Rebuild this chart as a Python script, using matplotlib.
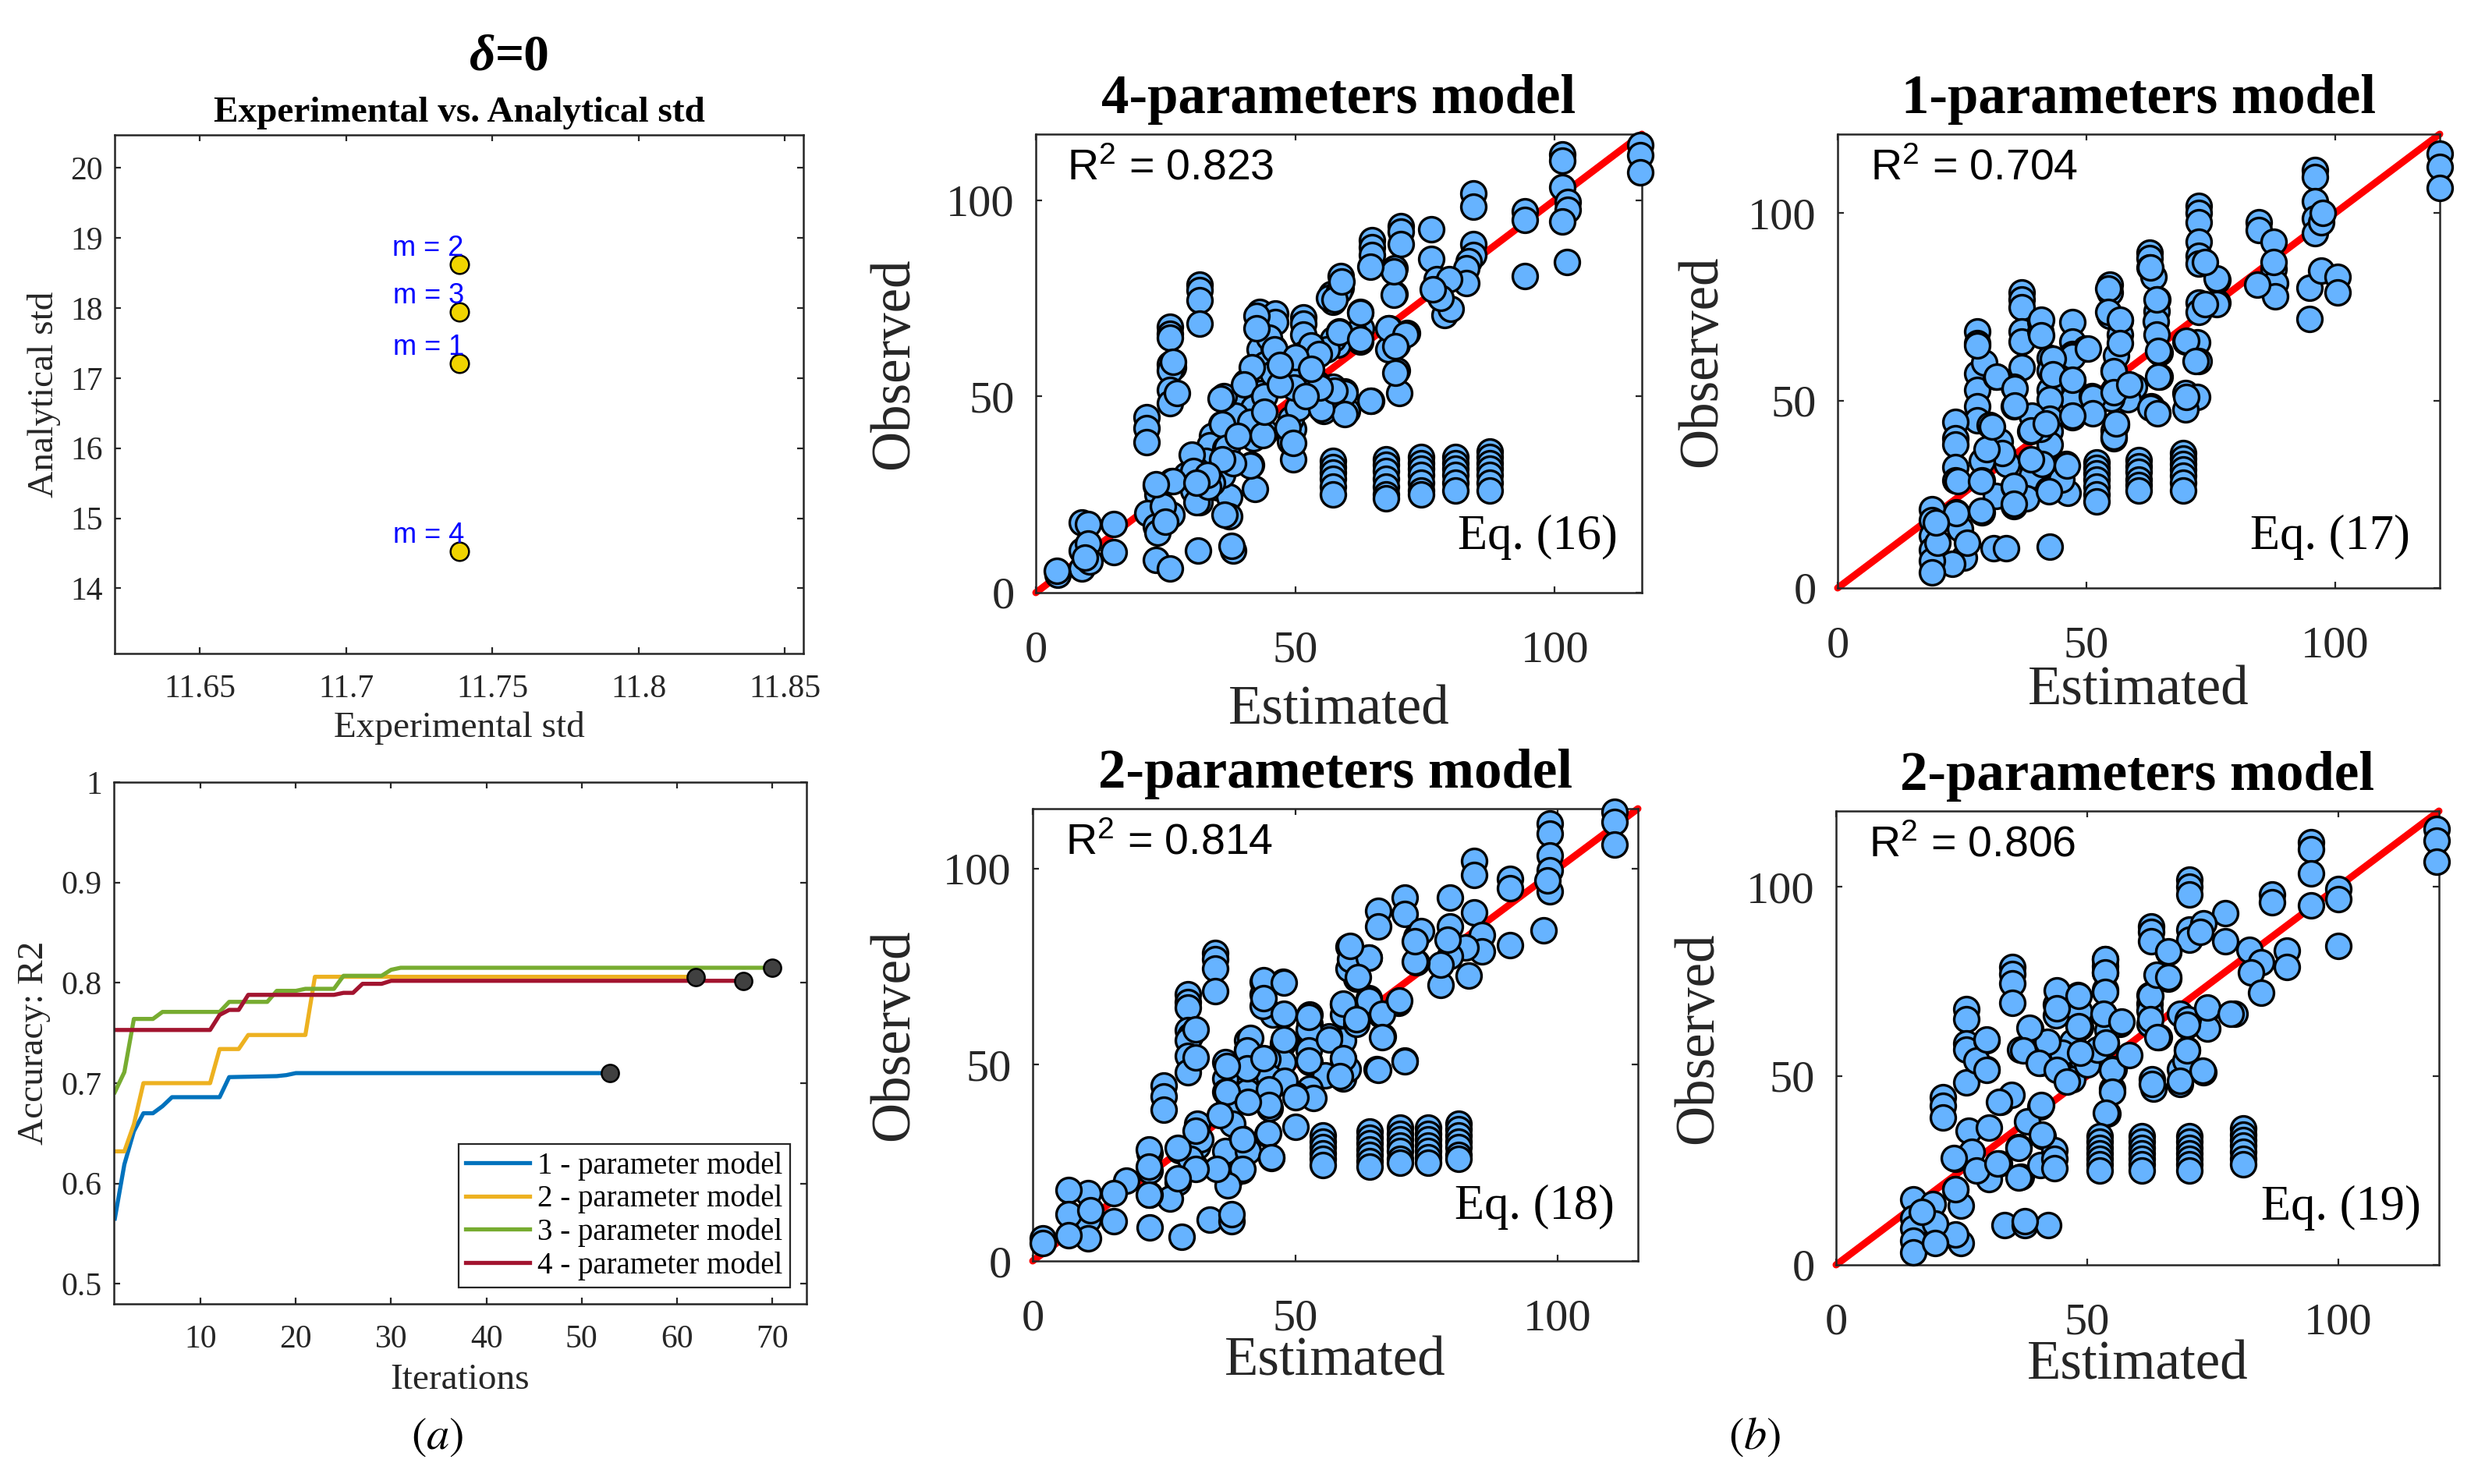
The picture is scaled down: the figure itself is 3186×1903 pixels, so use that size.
import numpy as np
import matplotlib
matplotlib.use('Agg')
import matplotlib.pyplot as plt
from matplotlib.ticker import FixedLocator, FixedFormatter

# ---------------- data: panel (a) top ----------------
model_m = [1, 2, 3, 4]
exp_std = [11.7386, 11.7386, 11.7386, 11.7386]
ana_std = [17.21, 18.62, 17.94, 14.53]

# ---------------- data: panel (a) bottom (breakpoints of R2 vs iterations) -------------
it_1p = [1, 2, 3, 4, 5, 6, 7, 12, 13, 18, 19, 20, 53]
r2_1p = [0.565, 0.619, 0.652, 0.670, 0.670, 0.677, 0.686, 0.686, 0.706, 0.707, 0.708, 0.710, 0.710]
it_2p = [1, 2, 3, 4, 11, 12, 14, 15, 21, 22, 62]
r2_2p = [0.632, 0.632, 0.659, 0.700, 0.700, 0.734, 0.734, 0.748, 0.748, 0.806, 0.806]
it_3p = [1, 2, 3, 5, 6, 12, 13, 17, 18, 20, 21, 24, 25, 29, 30, 31, 70]
r2_3p = [0.691, 0.711, 0.764, 0.764, 0.771, 0.771, 0.781, 0.781, 0.792, 0.792, 0.794, 0.794,
         0.807, 0.807, 0.813, 0.815, 0.815]
it_4p = [1, 11, 12, 13, 14, 15, 24, 25, 26, 27, 29, 30, 67]
r2_4p = [0.753, 0.753, 0.768, 0.773, 0.773, 0.788, 0.788, 0.790, 0.790, 0.799, 0.799, 0.802, 0.802]
end_it = [53, 62, 67, 70]
end_r2 = [0.710, 0.806, 0.8015, 0.815]
legend_labels = ['1 - parameter model', '2 - parameter model', '3 - parameter model', '4 - parameter model']

# ---------------- data: panel (b) scatter points (estimated, observed) ----------------
pts_eq16 = [
    (116.5, 114), (116.5, 111.5), (116.5, 107),
    (101.4, 111.6), (101.4, 110), (101.4, 103.3), (102.5, 99.5), (102.5, 97.5), (101.4, 94.6), (102.3, 84.3),
    (94.2, 97.1), (94.2, 95), (94.2, 80.6),
    (84.4, 101.7), (84.4, 98.3), (84.4, 88.8), (84.4, 86), (83.5, 84.5), (83, 82.6), (83, 78.9),
    (76.2, 92.6), (76.2, 85.1), (77.3, 79.8), (77.3, 77.3), (78.8, 70.7), (80, 72.3), (79.6, 79.8), (78, 75),
    (70.4, 93.4), (70.4, 92), (70.4, 88.8), (69.2, 82.6), (69.2, 76),
    (64.8, 89.7), (64.8, 88), (64.8, 86),
    (58.8, 80.6), (58.8, 77.7), (56.9, 76), (57.3, 74), (56.5, 75),
    (62.5, 71.5), (62.7, 67.4), (62.5, 64), (61.5, 66),
    (58.5, 66.5), (58.1, 63.2), (57.3, 64.5), (56, 62),
    (68.1, 67.4), (71.5, 66.1), (69.6, 63.2), (69.6, 56.6), (70, 50.8), (68, 62),
    (64.6, 48.8), (59.6, 51.2), (60, 46.3), (57.3, 52.5), (55.4, 46.3), (56, 49),
    (51.5, 70.2), (51.5, 68.5), (51.5, 65.7), (51.5, 60.7), (50, 57.9), (50, 52.5), (54.2, 60.7),
    (54.2, 53.3), (52.7, 55.8), (53, 63),
    (49.6, 41.7), (49.6, 33.9), (49.2, 44.2), (49, 38.5), (50.5, 47),
    (43.1, 71.5), (43.1, 70), (43.1, 68.6), (43.1, 62), (46.2, 71.1), (46.2, 69), (45.8, 62.4),
    (46.2, 55.8), (44.2, 58.3), (45, 65),
    (40.4, 53.7), (39.6, 48.8), (43.5, 50.8), (41.5, 43.8), (41.9, 39.3), (44.2, 40.9), (42, 47), (38.5, 45),
    (36.2, 50), (35.8, 43), (34, 40), (33.5, 37.5), (41.5, 32.6), (42.3, 26.4),
    (36.5, 36.8), (35, 26.9), (37.3, 24.4), (37.3, 19.4), (34.6, 31.8), (32.7, 33.5), (36, 30), (34, 28),
    (30.8, 31.4), (30.4, 26), (30, 35.1), (29, 30), (31.5, 23),
    (31.5, 78.5), (31.5, 77), (31.5, 74.4), (31.5, 68.6),
    (25.9, 67.8), (25.9, 66), (25.9, 64.9), (25.9, 58.3), (26.5, 57.5), (25.9, 56.6), (25.9, 51.7), (25.9, 48.3),
    (21.4, 44.6), (21.4, 42), (21.4, 38.4),
    (26.2, 28.5), (23.1, 27.3), (23.5, 25), (26.2, 19.8), (21.5, 20.2), (23.1, 16.9), (23.5, 15.3), (24.5, 22), (25, 18),
    (23.1, 8.3), (25.8, 6.2), (31.2, 10.7), (38.1, 10.7), (37.7, 12),
    (15, 17.4), (15, 10.3),
    (8.8, 17.8), (10, 17.5), (8.8, 10.7), (10, 12.5), (8.8, 6.2), (10.4, 7.9), (9.5, 9),
    (4.2, 4.5), (4, 5.5),
    (42.5, 70.6), (42.5, 67.3), (46, 62), (49.7, 57.8), (49.7, 52.2), (45.7, 55.8), (41.7, 57.4), (54.5, 60.7),
    (58.5, 66.3), (58.5, 76.9), (57.5, 74.6), (62.5, 71.3), (62.5, 64.5), (68, 67.3), (71.2, 65.7), (69.3, 62.7),
    (69.3, 56.1), (64.5, 48.8), (59.5, 50.8), (59.5, 45.5), (55, 46.9), (57.5, 51.5), (54.7, 52.2), (69, 75.9),
    (69, 81.8), (64.5, 83), (59, 79.2), (76.5, 77.2), (40.2, 53.1), (35.7, 49.5), (35.9, 42.9), (41.4, 43.6),
    (48.5, 42.2), (49.6, 38.2), (43.8, 40.2), (41.4, 32.3), (30.4, 31), (30.9, 23.1), (33.2, 27.1), (36.9, 37),
    (26.4, 28.4), (23.1, 27.7), (36.4, 19.8), (26.4, 58.7), (27.2, 50.8), (44, 50), (47, 53), (52, 50),
    (50, 60), (53, 57), (47, 58), (44, 46), (39, 40), (38, 33), (36, 34), (33, 30), (31, 28),
]
cols_eq16 = [(57.3, [33.5, 32, 30.5, 29, 27, 25]),
             (67.5, [34, 32.5, 31, 29, 27, 25, 24]),
             (74.2, [34.5, 33, 31.5, 30, 28, 26, 25]),
             (80.8, [34.5, 33, 31.5, 30, 28, 26]),
             (87.5, [36, 34.5, 33, 31.5, 30, 28, 26])]

pts_eq17 = [
    (121, 115.7), (121, 112.2), (121, 106.6),
    (96, 111.4), (96, 109.5), (96, 103.2), (96, 98.5), (96, 94.6), (97.2, 97.6), (97.5, 100),
    (84.6, 97.6), (84.6, 95.4), (87.6, 92.4), (87.6, 85.1), (88, 81.2), (88, 77.8), (84.4, 80.8), (87.6, 87),
    (94.8, 80), (94.8, 71.8), (97.2, 84.7), (100.4, 83), (100.4, 78.7),
    (72.6, 101.9), (72.6, 100), (72.6, 97.6), (72.6, 92.4), (72.6, 88.6), (72.6, 86.4), (76.3, 82.1),
    (76.3, 76.1), (72.6, 76.1), (72.6, 73.5),
    (62.7, 89.4), (62.7, 88), (62.7, 85.5), (63.5, 83), (64.3, 76.9), (64.1, 73.9), (64, 71),
    (54.7, 80.8), (54.7, 78.7), (54.7, 72.6), (56.7, 71.3), (56.7, 67.5), (55.5, 58), (55.5, 52.8),
    (56, 43.4), (55.5, 39.9), (56, 62),
    (64.7, 62.7), (64.7, 56.3), (64.1, 67.5), (64.3, 46.8), (63, 48.5),
    (69.9, 65.7), (72.3, 65.5), (72.6, 60.6), (69.9, 52), (72.3, 51), (69.9, 47.7),
    (59.5, 53.7), (58.3, 50.3), (55, 50.5),
    (47.1, 70.9), (47.1, 65.7), (47.1, 62.3), (47.1, 55.4), (47.1, 50.3), (47.1, 45.5), (49.9, 63.9),
    (51.1, 51.1), (51.1, 46.8), (55.5, 42),
    (37, 78.7), (37, 77), (37, 74.8), (37, 68.3), (37, 65.7), (40.7, 70.9), (40.7, 68.3),
    (42.7, 61.4), (42.7, 58), (42.7, 52.8), (42.7, 50.3), (42.7, 45.1), (42.7, 41.7), (42.7, 38.2),
    (37, 58.9), (35.4, 53.7), (35.4, 48.5), (38.7, 41.7), (38.7, 33.9), (40.7, 42.5), (39, 46),
    (28, 68.3), (28, 65.3), (28, 57.1), (28, 52.8), (28, 48.5), (28, 44.7), (31.8, 56.3), (29.5, 60),
    (30.6, 43.4), (32.6, 39.1), (34, 33), (33, 36),
    (23.7, 44.2), (23.7, 40), (23.7, 38.2), (23.7, 32.2), (23.7, 28.7),
    (29, 33.9), (29, 28.7), (29, 20.1), (31.8, 24.5), (30, 37),
    (35.4, 27), (35.4, 21.9), (39, 30), (42.3, 26.2), (45.9, 33), (46.3, 25.3), (45, 29), (41, 33), (38, 24),
    (23.8, 20.1), (24.6, 15.8), (25.4, 8.1), (23, 6.4), (26, 12),
    (19, 21), (19, 18), (19, 14), (19, 10.2), (19, 7.2), (19, 4.2), (20, 12),
    (31.4, 10.7), (33.8, 10.7), (42.7, 11.1),
    (40.9, 71.5), (40.9, 67.4), (28.1, 64.6), (32, 56.3), (47.1, 61.8), (50.3, 63.9), (43.2, 61.1), (43.2, 57),
    (47.1, 55.6), (51.3, 50.7), (51.3, 46.5), (47.1, 45.9), (35.6, 53.2), (35.6, 48.6), (31, 43), (38.8, 42.1),
    (41.9, 43.8), (55.5, 57.7), (55.5, 52.1), (55.5, 40.4), (56, 43.8), (54.4, 79.8), (54.4, 73.6), (56.7, 71.5),
    (56.7, 65.3), (58.6, 54.2), (62.8, 48), (64.3, 46.6), (64.1, 77), (64.4, 63.2), (64.4, 56.3), (62.8, 85.4),
    (70.1, 66), (71.9, 60.5), (70.1, 51), (76.1, 82.6), (76.1, 75.7), (73.9, 75.7), (73.9, 86.8), (24.1, 28.5),
    (28.8, 28.5), (35.4, 27.2), (35.4, 22.4), (42.4, 25.8), (46.1, 32.7), (38.8, 34.3), (23.9, 19.9),
    (19.7, 17.4), (28.8, 20.6),
]
cols_eq17 = [(52, [33.5, 32, 30.5, 29, 27, 25, 23]),
             (60.5, [34, 32.5, 31, 29, 27.5, 26]),
             (69.5, [36, 34.5, 33, 31.5, 30, 28, 26])]

pts_eq18 = [
    (110.8, 114.5), (110.8, 112), (110.8, 106.2),
    (98.5, 111.5), (98.5, 109), (98.5, 103.3), (98.5, 99.6), (98.5, 94.2), (97.3, 84.3), (98, 97),
    (90.9, 97.5), (90.9, 95), (90.9, 80.6),
    (84.1, 102), (84.1, 98.4), (84.1, 88.9), (85.6, 83.1), (85.6, 79), (83, 72.8), (82.5, 80),
    (79.5, 92.6), (79.5, 85.2), (79.5, 77.8), (77.7, 70.3), (77.7, 75.5), (79, 82),
    (73.1, 82.7), (73.1, 76.1), (70.8, 92.6), (70.8, 88.5), (74, 84),
    (65.8, 89.3), (65.8, 85.2), (64, 77.3), (60.2, 80.2), (61.7, 72), (60.2, 74.5), (60.5, 77),
    (59.1, 65.4), (59.1, 62.9), (59.1, 56.3), (61.7, 60.5), (64, 67), (66.3, 62.9), (69.7, 65.8),
    (66.7, 57.2), (70.8, 51), (65.5, 48.9), (59.1, 51.4), (59.1, 46.5), (60, 49),
    (52.7, 62.9), (52.7, 60.5), (52.7, 58), (52.7, 54.7), (52.7, 50.6), (56.4, 57.2), (55.7, 47.3),
    (52.7, 44), (50, 42.3), (53.5, 41.5),
    (47.7, 71.2), (47.7, 62.9), (47.7, 55.5), (47.7, 50.6), (43.9, 71.2), (43.9, 67.9), (45.8, 62.9), (43.9, 65),
    (40.9, 56.3), (40.9, 53.9), (40.9, 49.8), (40.9, 46.5), (40.9, 43.2), (44.7, 51.4), (45.1, 44),
    (45.1, 39), (50, 34.1), (45, 47), (48, 46),
    (36.7, 50.6), (36.7, 46.5), (36.7, 43.2), (36.7, 37.4), (37.5, 40),
    (44.7, 32.5), (45.5, 26.3), (39.8, 31.2), (39.8, 23), (37.5, 20.9), (36.7, 28), (41, 28), (38, 35),
    (34.7, 78.6), (34.7, 77), (34.7, 74.5), (34.7, 68.7),
    (29.5, 67.9), (29.5, 66), (29.5, 64.6), (29.5, 58.8), (30, 57.5), (29.5, 56.3), (29.5, 52.2), (29.5, 48.1),
    (25, 44.8), (25, 42), (25, 38.6),
    (31.4, 34.9), (31.4, 29.2), (31.1, 23.8), (28, 28.3), (27.7, 20.1), (26.1, 16), (22.3, 27.5),
    (22.3, 23), (22.3, 16.8), (32, 31), (30, 26),
    (17.8, 20.5), (15.5, 17.2), (15.5, 10.2), (10.6, 17.2), (10.6, 10.6), (10.6, 5.7), (6.8, 18),
    (6.8, 11.9), (6.8, 6.5), (11, 13),
    (22.3, 8.6), (28.4, 6.1), (33.7, 10.6), (37.9, 10.2), (37.9, 12),
    (1.9, 5.7), (2, 4.5),
    (44, 71.6), (47.9, 71), (44, 67), (47.9, 63), (47.9, 56.4), (41.5, 56.8), (40.8, 53.7), (40.8, 49.1),
    (37, 49.7), (37, 43.2), (44, 51.7), (45, 43.8), (50, 41.8), (45, 39.8), (41, 40.5), (52.6, 59),
    (52.6, 53.7), (52.6, 51.1), (52.6, 62.3), (56.4, 56.4), (59.1, 65.7), (59.1, 51.7), (58.6, 47.1),
    (64, 66.4), (66.5, 63), (66.5, 57.1), (69.9, 66.4), (65.8, 48.8), (70.8, 50.8), (61.7, 61.7),
    (72.8, 76.3), (72.8, 81.6), (64, 77.3), (62, 72.3), (60.5, 80.3), (44.9, 32.7), (45.4, 26.4),
    (39.9, 31.1), (39.9, 23.5), (37.1, 19.3), (35.1, 23.5), (35.6, 37.2), (31.1, 33.2), (31.1, 23.5),
    (27.6, 28.9), (22.2, 28.5), (22.2, 24.1), (27.6, 21), (22.2, 16.8), (31.1, 59), (31.1, 51.8),
]
cols_eq18 = [(55.3, [32, 30.5, 29, 27.5, 26, 24.5]),
             (64.2, [33, 31.5, 30, 28.5, 27, 25.5, 24]),
             (70, [34, 32.5, 31, 29.5, 28, 26, 25]),
             (75.4, [34, 32.5, 31, 29.5, 28, 26.5, 25]),
             (81.1, [35, 33.5, 32, 30.5, 29, 27, 26])]

pts_eq19 = [
    (119.5, 115.2), (119.5, 112.2), (119.5, 106.6),
    (94.5, 111.7), (94.5, 110), (94.5, 103.6), (94.5, 95), (100, 99.3), (100, 96.7), (100, 84.3),
    (86.8, 98), (86.8, 95.9), (89.7, 83), (89.7, 78.7), (82.2, 83.4), (84.6, 80), (82.6, 77.4), (84.6, 71.9),
    (77.5, 92.9), (77.5, 85.6),
    (70.3, 101.9), (70.3, 100), (70.3, 98), (70.3, 88.6), (70.3, 86), (73.1, 90.3), (72.5, 88),
    (62.7, 89.5), (62.7, 88), (62.7, 85.6), (66.2, 82.6), (66.2, 75.7),
    (53.6, 80.9), (53.6, 79), (53.6, 77.4), (53.6, 72.7), (53.3, 66.3), (56.5, 63.7), (53.7, 58.6),
    (55.3, 51.7), (54.9, 46.6), (54.1, 40.1), (54, 62),
    (62.4, 71.4), (62.4, 69), (62.4, 67.2), (62.4, 63.7), (64.2, 60.3),
    (68.4, 66.3), (69.9, 63.3), (73.9, 67.6), (73.9, 62.4), (79.4, 66.3), (70, 65),
    (69.9, 56.9), (68.4, 51.7), (73.1, 50.9), (68.4, 47.9), (62.8, 49.1), (63.2, 46.6), (69.5, 54),
    (48.2, 71.4), (48.6, 62.9), (48.6, 55.1), (43.8, 68.9), (43.8, 66), (48.5, 67), (47, 59),
    (35.1, 78.7), (35.1, 77), (35.1, 74.4), (35.1, 69.3),
    (38.7, 62.4), (36.7, 56.9), (40.7, 53.4), (44.2, 52.6), (47, 49.1), (45, 56), (42, 59), (50, 53), (52, 57),
    (26, 67.6), (26, 65), (26, 58.6), (26, 56.9), (26, 48.3), (30, 59.4), (30, 51.7), (28, 54),
    (21.3, 44.4), (21.3, 42), (21.3, 38.9),
    (32.8, 43.1), (40.7, 41.9), (41.1, 34.1), (36.3, 31.1), (32.4, 26.8), (36.8, 23.4), (40.7, 26.4),
    (43.4, 30.3), (38, 38), (35, 45), (43.4, 28), (43.4, 25.5),
    (26.4, 35.4), (30.4, 36.3), (30.4, 22.6), (23.7, 28.1), (23.7, 20), (24.8, 15.7), (24.8, 5.8),
    (23.7, 8), (27, 30), (28, 25),
    (15.3, 17.4), (15.3, 12.3), (15.3, 9.7), (15.3, 6.3), (15.3, 3.3), (19.3, 16.1), (19.7, 11),
    (19.7, 5.8), (17, 14),
    (33.5, 10.5), (37.5, 10.5), (42.2, 10.5), (37.5, 11.5),
    (38.5, 62.6), (37.2, 56.8), (40.3, 53.3), (43.9, 72.6), (43.9, 67.8), (48.3, 71.2), (48.3, 63),
    (48.6, 56.1), (43.9, 51.6), (45.9, 48.5), (53.5, 80.8), (53.5, 77.4), (53.5, 72.2), (53.2, 66.4),
    (56.8, 64.3), (53.7, 58.7), (55, 51.6), (55, 45.8), (53.7, 40.3), (58.4, 55.4), (62.5, 71.2), (62.5, 65),
    (64, 60.2), (63.8, 76.7), (66.1, 76), (66.1, 82.9), (69.8, 63.6), (73.9, 68.1), (69.8, 56.8),
    (68.5, 48.6), (72.9, 51.3), (62.8, 47.8), (78.5, 66.4), (41, 34.4), (36.4, 31), (32.2, 26.8),
    (36.4, 23), (23.4, 28.2), (23.7, 20), (32.5, 43), (40.8, 42.3), (29.9, 59.5), (29.9, 51.6),
]
cols_eq19 = [(52.5, [34, 32.5, 31, 29.5, 28, 26.5, 25]),
             (60.8, [34, 32.5, 31, 29.5, 28, 26.5, 25]),
             (70.3, [34, 32.5, 31, 29.5, 28, 26.5, 25]),
             (81, [36, 34.5, 33, 31.5, 30, 28, 26.5])]

panel_titles = ['4-parameters model', '1-parameters model', '2-parameters model', '2-parameters model']
panel_r2 = ['0.823', '0.704', '0.814', '0.806']
panel_eq = ['Eq. (16)', 'Eq. (17)', 'Eq. (18)', 'Eq. (19)']
panel_lim = [116.8, 121.0, 115.3, 120.0]

# ---------------- figure ----------------
W, H, DPI = 3186, 1903, 100
plt.rcParams['font.family'] = ['Liberation Serif', 'DejaVu Serif']
plt.rcParams['mathtext.fontset'] = 'custom'
plt.rcParams['mathtext.rm'] = 'Liberation Sans'
plt.rcParams['mathtext.it'] = 'Liberation Sans:italic'
plt.rcParams['mathtext.bf'] = 'Liberation Sans:bold'

fig = plt.figure(figsize=(W / DPI, H / DPI), dpi=DPI)
AX_COL = '#262626'


def add_ax(x0, y0, x1, y1):
    return fig.add_axes([x0 / W, 1 - y1 / H, (x1 - x0) / W, (y1 - y0) / H])


def style(ax, fs, padx, pady, tl=6):
    for s in ax.spines.values():
        s.set_linewidth(1.8)
        s.set_color(AX_COL)
    ax.tick_params(direction='in', top=True, right=True, length=tl, width=1.6,
                   colors=AX_COL, labelsize=fs)
    ax.tick_params(axis='x', pad=padx)
    ax.tick_params(axis='y', pad=pady)


# ---- (a) top ----
ax = add_ax(147, 173, 1030, 838)
ax.scatter(exp_std, ana_std, s=17 ** 2, c='#F0D400', edgecolors='k', linewidths=1.8, zorder=3)
for xv, yv, m in zip(exp_std, ana_std, model_m):
    ax.annotate(f'm = {m}', (xv, yv), xytext=(4.5, 8.0), textcoords='offset points',
                ha='right', va='baseline', color='#0000FF', fontsize=26,
                family='Liberation Sans', zorder=5)
ax.set_xlim(11.6208, 11.8564)
ax.set_ylim(13.07, 20.47)
ax.xaxis.set_major_locator(FixedLocator([11.65, 11.7, 11.75, 11.8, 11.85]))
ax.xaxis.set_major_formatter(FixedFormatter(['11.65', '11.7', '11.75', '11.8', '11.85']))
ax.yaxis.set_major_locator(FixedLocator([14, 15, 16, 17, 18, 19, 20]))
ax.yaxis.set_major_formatter(FixedFormatter(['14', '15', '16', '17', '18', '19', '20']))
style(ax, 30, 19, 11)
ax.set_xlabel('Experimental std', fontsize=34, color=AX_COL, va='center')
ax.xaxis.set_label_coords(0.5, -0.143)
ax.set_ylabel('Analytical std', fontsize=34, color=AX_COL, va='center', ha='center')
ax.yaxis.set_label_coords(-0.103, 0.5)
ax.set_title('Experimental vs. Analytical std', fontsize=34, fontweight='bold', pad=12)
fig.text(635 / W, 1 - 90 / H, 'δ', fontsize=47, fontweight='bold', style='italic',
         ha='right', va='baseline')
fig.text(635 / W, 1 - 90 / H, '=0', fontsize=47, fontweight='bold', ha='left', va='baseline')

# ---- (a) bottom ----
ax = add_ax(146, 1003, 1034, 1672)
line_cols = ['#0072BD', '#EDB120', '#77AC30', '#A2142F']
series = [(it_1p, r2_1p), (it_2p, r2_2p), (it_3p, r2_3p), (it_4p, r2_4p)]
handles = []
for (xs, ys), c, lab in zip(series, line_cols, legend_labels):
    h, = ax.plot(xs, ys, color=c, lw=3.8, label=lab, zorder=2)
    handles.append(h)
ax.plot(end_it, end_r2, ls='none', marker='o', ms=16, mfc='#404040', mec='k', mew=1.8,
        zorder=4, clip_on=False)
ax.set_xlim(0.9, 73.6)
ax.set_ylim(0.48, 1.0)
ax.xaxis.set_major_locator(FixedLocator([10, 20, 30, 40, 50, 60, 70]))
ax.yaxis.set_major_locator(FixedLocator([0.5, 0.6, 0.7, 0.8, 0.9, 1.0]))
ax.yaxis.set_major_formatter(FixedFormatter(['0.5', '0.6', '0.7', '0.8', '0.9', '1']))
style(ax, 30, 19, 11)
ax.set_xlabel('Iterations', fontsize=34, color=AX_COL, va='center')
ax.xaxis.set_label_coords(0.5, -0.146)
ax.set_ylabel('Accuracy: R2', fontsize=34, color=AX_COL, va='center', ha='center')
ax.yaxis.set_label_coords(-0.115, 0.5)
leg = ax.legend(handles=handles, loc='lower right', bbox_to_anchor=(0.976, 0.031),
                borderaxespad=0, fontsize=28, frameon=True, fancybox=False,
                edgecolor='#262626', framealpha=1, handlelength=2.1, handletextpad=0.25,
                labelspacing=0.13, borderpad=0.25)
leg.get_frame().set_linewidth(1.6)

fig.text(561 / W, 1 - 1843 / H, r'$(\mathit{a})$', fontsize=42, ha='center', va='center',
         math_fontfamily='stix')
fig.text(2250 / W, 1 - 1843 / H, r'$(\mathit{b})$', fontsize=42, ha='center', va='center',
         math_fontfamily='stix')

# ---- (b) scatter panels ----
boxes = [(1328, 172, 2105, 760), (2356, 172, 3128, 754), (1324, 1037, 2100, 1617), (2354, 1040, 3127, 1622)]
all_pts = [pts_eq16, pts_eq17, pts_eq18, pts_eq19]
all_cols = [cols_eq16, cols_eq17, cols_eq18, cols_eq19]
xlab_y = [-0.257, -0.226, -0.222, -0.222]
ylab_x = [-0.233, -0.225, -0.229, -0.228]
eq_pos = [(0.96, 0.095), (0.95, 0.086), (0.961, 0.093), (0.97, 0.10)]
r2_pos = [(0.051, 0.90), (0.055, 0.899), (0.054, 0.90), (0.054, 0.90)]

for i in range(4):
    ax = add_ax(*boxes[i])
    lim = panel_lim[i]
    est = [p[0] for p in all_pts[i]] + [c[0] for c in all_cols[i] for _ in c[1]]
    obs = [p[1] for p in all_pts[i]] + [v for c in all_cols[i] for v in c[1]]
    ax.plot([0, lim], [0, lim], color='#FF0000', lw=6.5, solid_capstyle='round', zorder=2,
            clip_on=False)
    ax.scatter(est, obs, s=23 ** 2, c='#66B3FF', edgecolors='k', linewidths=2.4, zorder=3,
               clip_on=False)
    ax.set_xlim(0, lim)
    ax.set_ylim(0, lim)
    ax.xaxis.set_major_locator(FixedLocator([0, 50, 100]))
    ax.yaxis.set_major_locator(FixedLocator([0, 50, 100]))
    style(ax, 42, 35, 19.5)
    ax.set_xlabel('Estimated', fontsize=51, color=AX_COL, va='center')
    ax.xaxis.set_label_coords(0.5, xlab_y[i])
    ax.set_ylabel('Observed', fontsize=51, color=AX_COL, va='center', ha='center')
    ax.yaxis.set_label_coords(ylab_x[i], 0.5)
    ax.set_title(panel_titles[i], fontsize=51, fontweight='bold', pad=19.5)
    ax.text(r2_pos[i][0], r2_pos[i][1], r'R$^{\mathrm{2}}$ = ' + panel_r2[i], transform=ax.transAxes,
            family='Liberation Sans', fontsize=40, ha='left', va='baseline', zorder=6)
    ax.text(eq_pos[i][0], eq_pos[i][1], panel_eq[i], transform=ax.transAxes,
            fontsize=45, ha='right', va='baseline', zorder=6)

fig.savefig('out.png', dpi=DPI)
